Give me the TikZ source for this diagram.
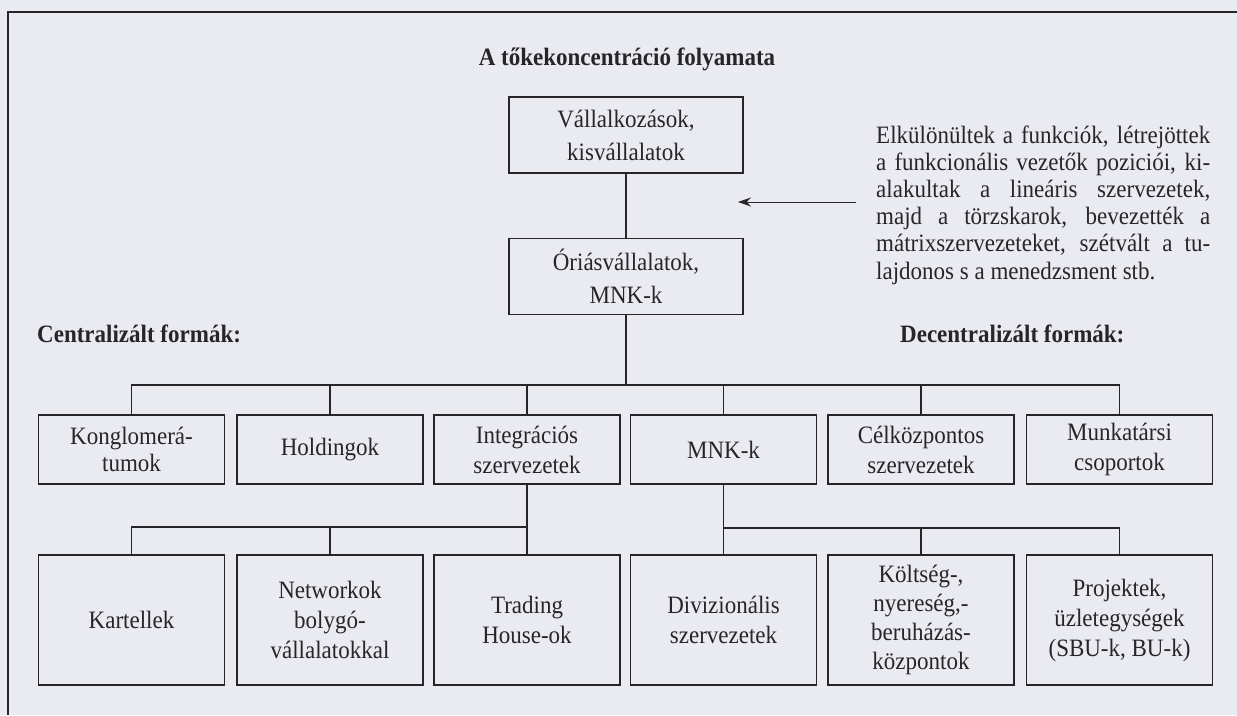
\documentclass[tikz,border=0pt]{standalone}
\usepackage{fontspec}
\setmainfont[FakeStretch=0.92]{Liberation Serif}
\usetikzlibrary{arrows.meta}
\definecolor{paper}{RGB}{234,234,241}
\definecolor{ink}{RGB}{38,38,42}
\tikzset{
  box/.style={draw=ink, line width=1.4pt, text=ink, align=center, minimum width=186pt, inner sep=0pt,
    font=\fontsize{25}{30}\selectfont},
  topbox/.style={draw=ink, line width=1.4pt, text=ink, align=center, minimum width=234pt, minimum height=76pt, inner sep=0pt,
    font=\fontsize{25}{33}\selectfont},
  rowone/.style={box, minimum height=69pt},
  rowtwo/.style={box, minimum height=130pt},
  conn/.style={draw=ink, line width=1.3pt},
  heading/.style={text=ink, font=\fontsize{25}{27}\selectfont\bfseries, inner sep=0pt},
}
\begin{document}
\begin{tikzpicture}[x=1pt,y=-1pt]
\fill[paper] (0,0) rectangle (1237,715);
\useasboundingbox (0,0) rectangle (1237,715);
% frame
\draw[ink, line width=1.6pt] (8,715) -- (8,12) -- (1237,12);

\node[heading, anchor=base] (title) at (627,65) {A tőkekoncentráció folyamata};

\node[topbox] (vall) at (626,135) {Vállalkozások,\\kisvállalatok};
\node[topbox] (oria) at (626,276.5) {Óriásvállalatok,\\MNK-k};

\node[text=ink, text width=334pt, align=justify, inner sep=0pt,
      font=\fontsize{25}{27.2}\selectfont, anchor=base west] (para) at (876,143)
 {Elkülönültek a funkciók, létrejöttek a~funkcionális vezetők poziciói, ki-\linebreak
  alakultak a lineáris szervezetek, majd a törzskarok, bevezették a mátrixszervezeteket, szétvált a tu-\linebreak
  lajdonos s a menedzsment stb.\par};

\coordinate (atail) at (856,202);
\coordinate (atip) at (738,202);
\draw[conn, line width=1pt, -{Stealth[length=13pt,width=9pt]}] (atail) -- (atip);

\node[heading, anchor=base west] (cent) at (37,342) {Centralizált formák:};
\node[heading, anchor=base west] (decent) at (900,342) {Decentralizált formák:};

% row 1
\node[rowone] (kong) at (131.5,449.5) {Konglomerá-\\[-3pt]tumok};
\node[rowone] (hold) at (330,449.5) {Holdingok};
\node[rowone] (integ) at (527,449.5) {Integrációs\\szervezetek};
\node[rowone] (mnk) at (723.5,449.5) {MNK-k};
\node[rowone] (cel) at (921,449.5) {Célközpontos\\szervezetek};
\node[rowone] (munk) at (1119.5,449.5) {Munkatársi\\csoportok};

% row 2
\node[rowtwo] (kart) at (131.5,620) {Kartellek};
\node[rowtwo] (netw) at (330,620) {Networkok\\bolygó-\\vállalatokkal};
\node[rowtwo] (trad) at (527,620) {Trading\\House-ok};
\node[rowtwo] (divi) at (723.5,620) {Divizionális\\szervezetek};
\node[rowtwo] (kolt) at (921,620) {Költség-,\\[-1pt]nyereség,-\\[-1pt]beruházás-\\[-1pt]központok};
\node[rowtwo] (proj) at (1119.5,620) {Projektek,\\üzletegységek\\(SBU-k, BU-k)};

% connectors
\coordinate (bus) at (628,385);
\coordinate (busl) at (0,527);
\coordinate (busr) at (0,528);
\draw[conn] (vall.south) -- (oria.north);
\draw[conn] (oria.south) -- (oria.south |- bus);
\draw[conn] (kong.north) |- (munk.north |- bus) -- (munk.north);
\draw[conn] (hold.north) -- (hold.north |- bus);
\draw[conn] (integ.north) -- (integ.north |- bus);
\draw[conn] (mnk.north) -- (mnk.north |- bus);
\draw[conn] (cel.north) -- (cel.north |- bus);

\draw[conn] (integ.south) -- (trad.north);
\draw[conn] (kart.north) |- (trad.north |- busl);
\draw[conn] (netw.north) -- (netw.north |- busl);

\draw[conn] (mnk.south) -- (divi.north);
\draw[conn] (proj.north) |- (divi.north |- busr);
\draw[conn] (kolt.north |- busr) -- (kolt.north);
\end{tikzpicture}
\end{document}
